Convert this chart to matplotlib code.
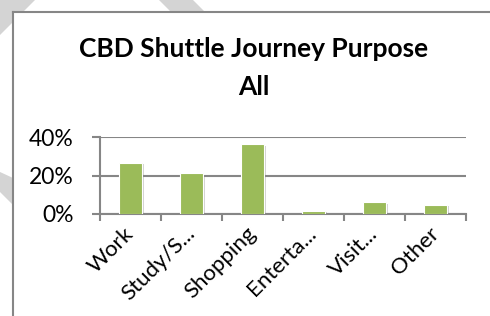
import matplotlib
matplotlib.use("Agg")
import matplotlib.pyplot as plt
import matplotlib.patheffects as pe
from matplotlib.patches import Polygon, Rectangle
from matplotlib.lines import Line2D
import numpy as np

W, H = 490, 316

categories = ["Work", "Study/S...", "Shopping", "Enterta...", "Visit...", "Other"]
shares = [0.266, 0.211, 0.364, 0.017, 0.061, 0.048]
yticks = [0.0, 0.2, 0.4]
ytick_labels = ["0%", "20%", "40%"]

BAR = "#9BBB59"
GRID = "#868686"
FONT = "Lato"

fig = plt.figure(figsize=(W / 100, H / 100), dpi=100)
fig.patch.set_facecolor("white")


def px(x, y):
    # pixel coords from top-left -> figure fraction
    return (x / W, 1 - y / H)


# watermark pieces peeking out around the chart box
wm = [
    [(0, 0), (35, 0), (0, 35)],
    [(159, 0), (193, 0), (205, 12), (171, 12)],
    [(0, 172), (13, 178), (13, 205), (0, 192)],
]
for poly in wm:
    fig.patches.append(Polygon([px(*p) for p in poly], closed=True,
                               transform=fig.transFigure, facecolor="#D4D4D4",
                               edgecolor="none", zorder=0))

# chart area + border
fig.patches.append(Rectangle(px(13, H), (W - 13) / W, (H - 12) / H,
                             transform=fig.transFigure, facecolor="white",
                             edgecolor="none", zorder=1))
fig.lines.append(Line2D([13 / W, 13 / W], [1 - 12 / H, 0], transform=fig.transFigure,
                        color=GRID, lw=1.5, zorder=2))
fig.lines.append(Line2D([13 / W, 1], [1 - 12 / H, 1 - 12 / H], transform=fig.transFigure,
                        color=GRID, lw=1.5, zorder=2))

# title
fig.text(254 / W, 1 - 57 / H, "CBD Shuttle Journey Purpose", ha="center", va="baseline",
         fontsize=19, fontweight="bold", family=FONT, zorder=3)
fig.text(254 / W, 1 - 95 / H, "All", ha="center", va="baseline",
         fontsize=19, fontweight="bold", family=FONT, zorder=3)

ax = fig.add_axes([100 / W, 1 - 214 / H, 366 / W, 77 / H])
ax.set_zorder(3)
ax.patch.set_alpha(0)

x = np.arange(len(categories))
bars = ax.bar(x, shares, width=0.38, color=BAR, edgecolor="white", linewidth=0.8, zorder=3)
for b in bars:
    b.set_path_effects([pe.SimplePatchShadow(offset=(1.2, -1.2), shadow_rgbFace="grey", alpha=0.35),
                        pe.Normal()])

ax.set_xlim(-0.5, len(categories) - 0.5)
ax.set_ylim(0, 0.4)
ax.set_yticks(yticks)
ax.set_yticklabels(ytick_labels, family=FONT, fontsize=16.5)
ax.yaxis.grid(True, color=GRID, lw=1.5, zorder=0)
ax.set_axisbelow(True)
ax.tick_params(axis="y", length=6, width=1.5, color=GRID, pad=13)

ax.set_xticks(x)
ax.set_xticklabels(categories, rotation=45, ha="right", va="center",
                   rotation_mode="anchor", family=FONT, fontsize=16)
ax.set_xticks(np.arange(len(categories) + 1) - 0.5, minor=True)
ax.tick_params(axis="x", which="major", length=0, pad=12)
ax.tick_params(axis="x", which="minor", length=5, width=1.5, color=GRID)

for s in ["top", "right"]:
    ax.spines[s].set_visible(False)
for s in ["left", "bottom"]:
    ax.spines[s].set_color(GRID)
    ax.spines[s].set_linewidth(1.5)

fig.savefig("out.png", dpi=100)
